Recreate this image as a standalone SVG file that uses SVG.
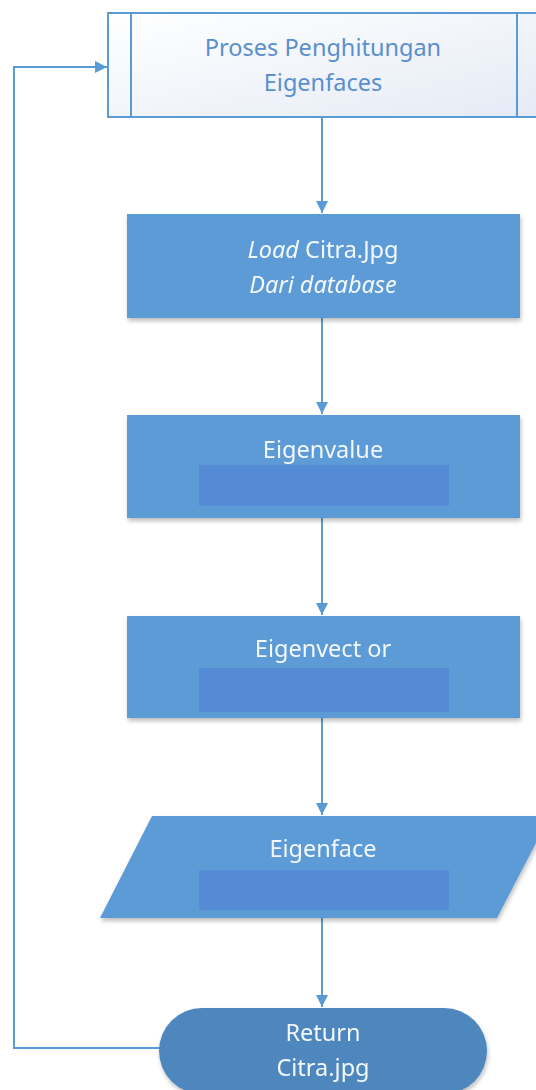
<svg xmlns="http://www.w3.org/2000/svg" width="536" height="1090" viewBox="0 0 536 1090">
<defs>
<linearGradient id="topg" x1="0" y1="0" x2="1" y2="1">
<stop offset="0" stop-color="#ffffff"/>
<stop offset="1" stop-color="#e4ebf5"/>
</linearGradient>
<filter id="sh" x="-10%" y="-10%" width="120%" height="130%">
<feDropShadow dx="1" dy="3" stdDeviation="2" flood-color="#000" flood-opacity="0.25"/>
</filter>
<marker id="ah" markerWidth="12" markerHeight="12" refX="12" refY="6" orient="auto" markerUnits="userSpaceOnUse">
<path d="M0,0 L12,6 L0,12 Z" fill="#5b9bd5"/>
</marker>
</defs>
<style>
.t{font-family:"Noto Sans","Liberation Sans",sans-serif;font-size:23.5px;text-anchor:middle}
.w{fill:#f4f8fc}
.box{fill:#5b9bd5}
.inner{fill:#548bd4}
.c{fill:none;stroke:#5b9bd5;stroke-width:2}
</style>
<rect width="536" height="1090" fill="#ffffff"/>
<g id="connectors">
<line class="c" x1="322" y1="117" x2="322" y2="213" marker-end="url(#ah)"/>
<line class="c" x1="322" y1="318" x2="322" y2="414" marker-end="url(#ah)"/>
<line class="c" x1="322" y1="518" x2="322" y2="615" marker-end="url(#ah)"/>
<line class="c" x1="322" y1="718" x2="322" y2="815" marker-end="url(#ah)"/>
<line class="c" x1="322" y1="918" x2="322" y2="1007" marker-end="url(#ah)"/>
<polyline class="c" points="160,1048 14,1048 14,67 107,67" marker-end="url(#ah)"/>
</g>
<g id="proses">
<rect x="108" y="13" width="440" height="104" fill="url(#topg)" stroke="#5b9bd5" stroke-width="2"/>
<line x1="131" y1="13" x2="131" y2="117" stroke="#5b9bd5" stroke-width="2"/>
<line x1="517" y1="13" x2="517" y2="117" stroke="#5b9bd5" stroke-width="2"/>
<text class="t" x="323" y="56" fill="#5a8fcf">Proses Penghitungan</text>
<text class="t" x="323" y="91" fill="#5a8fcf">Eigenfaces</text>
</g>
<g id="load" filter="url(#sh)">
<rect class="box" x="127" y="214" width="393" height="104"/>
<text class="t w" x="323" y="258"><tspan font-style="italic">Load</tspan> Citra.Jpg</text>
<text class="t w" x="323" y="293" font-style="italic">Dari database</text>
</g>
<g id="eigenvalue" filter="url(#sh)">
<rect class="box" x="127" y="415" width="393" height="103"/>
<rect class="inner" x="199" y="465" width="250" height="41"/>
<text class="t w" x="323" y="458">Eigenvalue</text>
</g>
<g id="eigenvector" filter="url(#sh)">
<rect class="box" x="127" y="616" width="393" height="102"/>
<rect class="inner" x="199" y="668" width="250" height="44"/>
<text class="t w" x="323" y="657">Eigenvect or</text>
</g>
<g id="eigenface" filter="url(#sh)">
<polygon class="box" points="152,816 550,816 497,918 100,918"/>
<rect class="inner" x="199" y="870" width="250" height="40"/>
<text class="t w" x="323" y="857">Eigenface</text>
</g>
<g id="return" filter="url(#sh)">
<rect x="159" y="1008" width="328" height="86" rx="43" ry="43" fill="#4d87be"/>
<text class="t w" x="323" y="1041">Return</text>
<text class="t w" x="323" y="1076">Citra.jpg</text>
</g>
</svg>
